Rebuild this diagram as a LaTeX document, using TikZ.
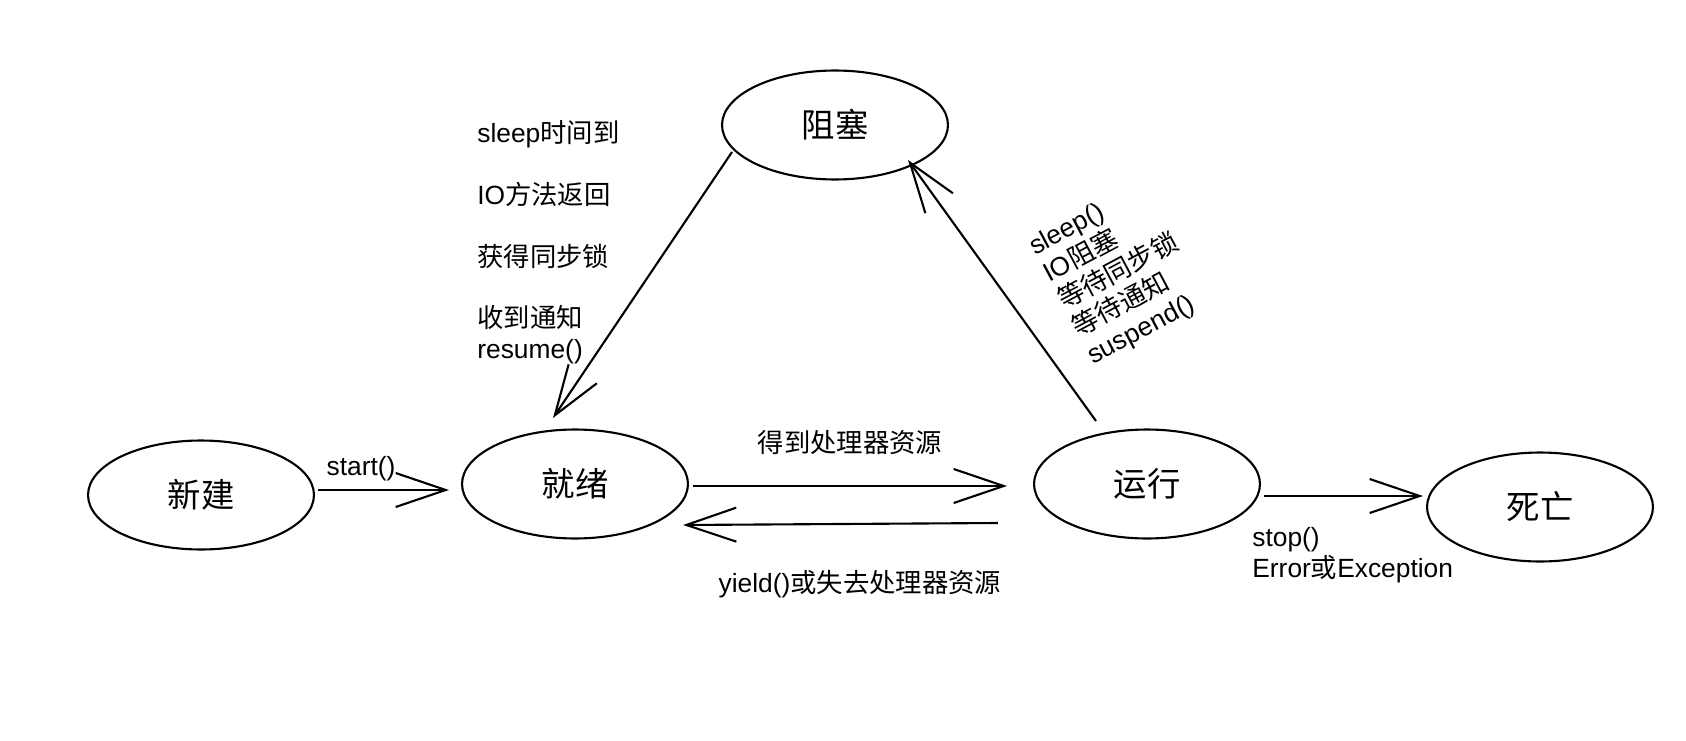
\documentclass[tikz,border=0pt]{standalone}
\usepackage{fontspec}
\setmainfont{Liberation Sans}
\newfontfamily\cjk{Noto Sans CJK SC}
\newcommand{\zh}[1]{{\cjk #1}}
\usetikzlibrary{arrows.meta,shapes.geometric,calc}

\tikzset{
  state/.style={draw, ellipse, line width=1.2pt, minimum width=4.52cm,
    minimum height=2.18cm, inner sep=0pt, font=\fontsize{19}{22}\selectfont},
  arr/.style={line width=1.2pt, -{Straight Barb[length=1cm,width=0.68cm]}},
  lbl/.style={inner sep=0pt, font=\fontsize{15}{17.6}\selectfont, align=left}
}

\begin{document}
\begin{tikzpicture}[x=0.02cm, y=-0.02cm]
 \useasboundingbox (0,0) rectangle (1686,740);
 % states
 \foreach \n/\x/\y/\t in
  {
    xinjian/201/495/新建, jiuxu/575/484/就绪, zuse/835/125/阻塞,
    yunxing/1147/484/运行, siwang/1540/507/死亡
  }
  {
    \node[state] (\n) at (\x,\y) {\zh{\t}};
  }
 % transitions
 \draw[arr] ($(xinjian.east)+(3,-5)$) -- ($(jiuxu.west)+(-12,6)$);
 \draw[arr] ($(jiuxu.east)+(4,2)$) -- ($(yunxing.west)+(-26,2)$);
 \draw[arr] ($(yunxing.west)+(-35,39)$) -- ($(jiuxu.east)+(-6,41)$);
 \draw[arr] ($(yunxing.east)+(3,12)$) -- ($(siwang.west)+(-3,-11)$);
 \draw[arr] ($(zuse)+(-103,27)$) -- ($(jiuxu)+(-22,-66)$);
 \draw[arr] ($(yunxing)+(-51,-63)$) -- ($(zuse)+(73,35)$);
 % labels
 \node[lbl] (start) at (361,469) {start()};
 \node[lbl] (get) at (850,443) {\zh{得到处理器资源}};
 \node[lbl] (yield) at (860,584) {yield()\zh{或失去处理器资源}};
 \node[lbl, anchor=north west] (stop) at (1252,527) {stop()\\Error\zh{或}Exception};
 \node[lbl, anchor=north west] (wake) at (477,120)
  {sleep\zh{时间到}\\[17.6pt] IO\zh{方法返回}\\[17.6pt] \zh{获得同步锁}\\[17.6pt]
   \zh{收到通知}\\resume()};
 \node[lbl, rotate=28] (block) at (1119,273)
  {sleep()\\IO\zh{阻塞}\\\zh{等待同步锁}\\\zh{等待通知}\\suspend()};
\end{tikzpicture}
\end{document}
